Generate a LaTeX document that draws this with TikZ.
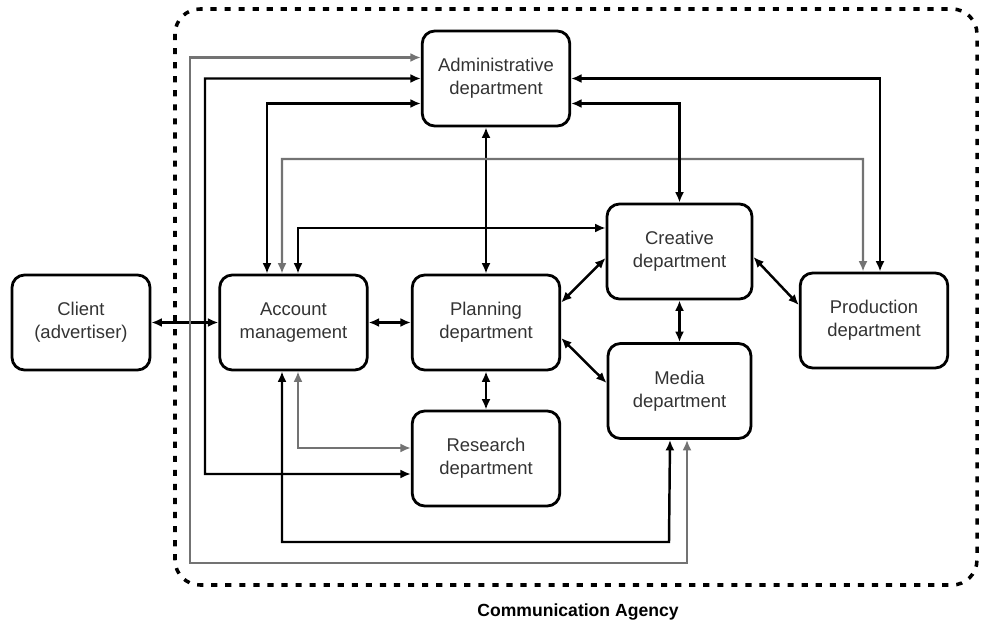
\documentclass[tikz,border=0pt]{standalone}
\usepackage{fontspec}
\setmainfont{Liberation Sans}
\usepackage{tikz}
\usetikzlibrary{shapes,arrows,arrows.meta,calc}
\tikzstyle{block} = [draw, rectangle, rounded corners=2.5mm, line width=1.6pt, text centered, align=center, minimum width=2.95cm, minimum height=1.9cm, font=\fontsize{10.5}{13}\selectfont, text=black!80]
\tikzstyle{line} = [draw, {Latex[length=2.1mm,width=1.8mm]}-{Latex[length=2.1mm,width=1.8mm]}, line width=1.4pt]
\tikzstyle{greyline} = [line, black!55, line width=1.2pt]
\tikzstyle{frame} = [draw, line width=2pt, dash pattern=on 3.5pt off 4.5pt, rounded corners=5mm]

\begin{document}
\begin{tikzpicture}[node distance = 4.25cm, auto]
        \useasboundingbox (0,0) rectangle (19.62,-12.56);
        % agency boundary
        \draw[frame] (3.5,-0.18) rectangle (19.54,-11.7);
        \node[font=\bfseries] (agency) at (11.56,-12.24) {Communication Agency};

        \node[block, minimum width=2.76cm] (client) at (1.62,-6.45) {Client\\(advertiser)};
        \node[block, right of=client] (account) {Account\\management};
        \node[block, right of=account, node distance=3.85cm] (planning) {Planning\\department};
        \node[block, below of=planning, node distance=2.72cm] (research) {Research\\department};
        \node[block] (admin) at (9.92,-1.57) {Administrative\\department};
        \node[block, minimum width=2.9cm] (creative) at (13.59,-5.03) {Creative\\department};
        \node[block, minimum width=2.86cm, below of=creative, node distance=2.79cm] (media) {Media\\department};
        \node[block] (production) at (17.48,-6.41) {Production\\department};

        % direct links
        \path[line] (client) -- (account);
        \path[line] (account) -- (planning);
        \path[line] (planning.south) -- (planning.south |- research.north);
        \path[line] (planning.north |- admin.south) -- (planning.north);
        \path[line] ([yshift=4mm]planning.east) -- ([yshift=-1.3mm]creative.west);
        \path[line] ([yshift=-3.1mm]planning.east) -- ([yshift=1.6mm]media.west);
        \path[line] (creative.south) -- (creative.south |- media.north);
        \path[line] ([yshift=-1.1mm]creative.east) -- ([yshift=3.1mm]production.west);

        % links routed round the boxes
        \path[greyline] ([yshift=4.2mm]admin.west) -| (3.8,-11.26) -| ([xshift=1.5mm]media.south);
        \path[line] (admin.west) -| (4.1,-9.48) -- ([yshift=-3.1mm]research.west);
        \path[line] ([yshift=-5mm]admin.west) -| ([xshift=-5.3mm]account.north);
        \path[greyline] ([xshift=-2.3mm]account.north) |- (17.26,-3.18) -- ([xshift=-2.2mm]production.north);
        \path[line] ([xshift=0.9mm]account.north) |- ([yshift=4.7mm]creative.west);
        \path[line] (admin.east) -| ([xshift=1.2mm]production.north);
        \path[line] ([yshift=-5mm]admin.east) -| (creative.north);
        \path[line] ([xshift=-2.3mm]account.south) |- (13.38,-10.84) -- ([xshift=-1.9mm]media.south);
        \path[greyline] ([xshift=0.9mm]account.south) |- ([yshift=2.1mm]research.west);
    \end{tikzpicture}
\end{document}
